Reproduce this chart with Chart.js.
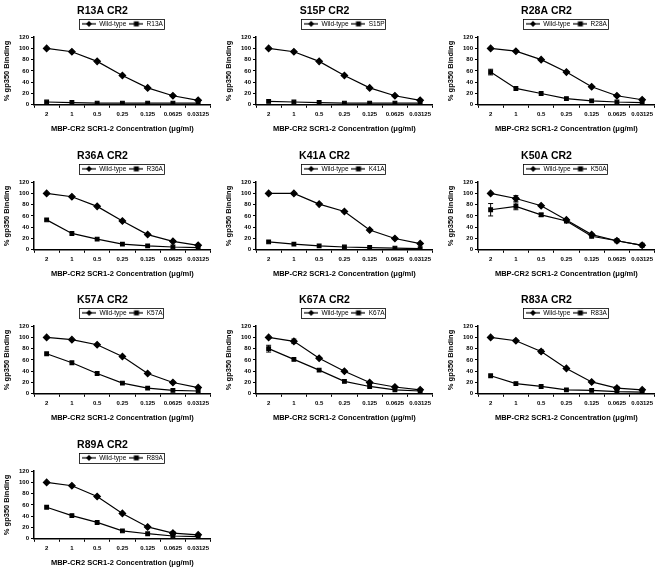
<!DOCTYPE html>
<html><head><meta charset="utf-8">
<script src="https://cdn.jsdelivr.net/npm/chart.js@4.4.1/dist/chart.umd.min.js"></script>
<style>
html,body{margin:0;padding:0;background:#fff;width:664px;height:567px;overflow:hidden;position:relative}
canvas{position:absolute}
</style></head><body>
<script>
// ---- data ----
const concentrations = ['2','1','0.5','0.25','0.125','0.0625','0.03125'];
const yTicks = [0,20,40,60,80,100,120];

const wt_R13A  = [100,94,77,52,30,16,8];
const mut_R13A = [5,4,3,3,3,3,3];
const wt_S15P  = [100,94,77,52,30,16,8];
const mut_S15P = [6,5,4,3,3,3,3];
const wt_R28A  = [100,95,80,58,32,16,9];
const mut_R28A = [58,29,20,11,7,5,4];
const errMut_R28A = [5,0,0,0,0,0,0];
const wt_R36A  = [100,94,77,51,27,15,8];
const mut_R36A = [53,29,19,10,7,5,4];
const wt_K41A  = [100,100,81,68,35,20,11];
const mut_K41A = [14,10,7,5,4,3,2];
const wt_K50A  = [100,91,78,53,27,16,8];
const mut_K50A = [71,77,62,51,24,16,8];
const errWt_K50A  = [0,5,0,0,0,0,0];
const errMut_K50A = [11,6,3,0,0,0,0];
const wt_K57A  = [100,96,87,66,36,20,11];
const mut_K57A = [71,55,36,19,10,6,5];
const wt_K67A  = [100,93,63,40,20,12,7];
const mut_K67A = [80,61,42,22,13,7,5];
const errWt_K67A  = [0,4,0,0,0,0,0];
const errMut_K67A = [6,0,0,0,0,0,0];
const wt_R83A  = [100,94,75,45,21,10,7];
const mut_R83A = [32,18,13,7,6,4,3];
const errWt_R83A = [0,0,3,0,0,3,0];
const wt_R89A  = [100,94,75,45,21,10,7];
const mut_R89A = [56,41,29,14,9,5,4];
const errWt_R89A = [0,0,0,0,0,3,0];

const panels = [
  ['R13A', wt_R13A, mut_R13A, null, null],
  ['S15P', wt_S15P, mut_S15P, null, null],
  ['R28A', wt_R28A, mut_R28A, null, errMut_R28A],
  ['R36A', wt_R36A, mut_R36A, null, null],
  ['K41A', wt_K41A, mut_K41A, null, null],
  ['K50A', wt_K50A, mut_K50A, errWt_K50A, errMut_K50A],
  ['K57A', wt_K57A, mut_K57A, null, null],
  ['K67A', wt_K67A, mut_K67A, errWt_K67A, errMut_K67A],
  ['R83A', wt_R83A, mut_R83A, errWt_R83A, null],
  ['R89A', wt_R89A, mut_R89A, errWt_R89A, null]
];

const FONT = "'Liberation Sans', Arial, sans-serif";

function legendIcon(style){
  const c = document.createElement('canvas');
  c.width = 14; c.height = 8;
  const g = c.getContext('2d');
  g.strokeStyle = '#000'; g.lineWidth = 1.2;
  g.beginPath(); g.moveTo(0,4); g.lineTo(14,4); g.stroke();
  g.fillStyle = '#000';
  if (style === 'rectRot') {
    g.beginPath(); g.moveTo(7,1); g.lineTo(10,4); g.lineTo(7,7); g.lineTo(4,4); g.closePath(); g.fill();
  } else {
    g.fillRect(4.5,1.5,5,5);
  }
  return c;
}
const iconWT = legendIcon('rectRot');
const iconMut = legendIcon('rect');

const errorBars = {
  id: 'errorBars',
  afterDatasetsDraw(chart){
    const ctx = chart.ctx, ys = chart.scales.y;
    chart.data.datasets.forEach((ds, i) => {
      if (!ds.errors) return;
      const meta = chart.getDatasetMeta(i);
      ds.errors.forEach((e, j) => {
        if (!e) return;
        const x = meta.data[j].x;
        const t = ys.getPixelForValue(ds.data[j] + e);
        const b = ys.getPixelForValue(ds.data[j] - e);
        ctx.save();
        ctx.strokeStyle = '#000'; ctx.lineWidth = 1;
        ctx.beginPath();
        ctx.moveTo(x, t); ctx.lineTo(x, b);
        ctx.moveTo(x-2.5, t); ctx.lineTo(x+2.5, t);
        ctx.moveTo(x-2.5, b); ctx.lineTo(x+2.5, b);
        ctx.stroke();
        ctx.restore();
      });
    });
  }
};

const legendFrame = {
  id: 'legendFrame',
  afterDraw(chart){
    const hb = chart.legend && chart.legend.legendHitBoxes;
    if (!hb || !hb.length) return;
    let l = Infinity, r = -Infinity, t = Infinity, b = -Infinity;
    hb.forEach(h => { l = Math.min(l, h.left); r = Math.max(r, h.left + h.width); t = Math.min(t, h.top); b = Math.max(b, h.top + h.height); });
    const ctx = chart.ctx;
    ctx.save();
    ctx.strokeStyle = '#000'; ctx.lineWidth = 0.8;
    ctx.strokeRect(Math.round(l - 3) + 0.5, Math.round(t - 2) + 0.5, Math.round(r - l + 4), Math.round(b - t + 3));
    ctx.restore();
  }
};

panels.forEach((p, idx) => {
  const [name, wt, mut, errWt, errMut] = p;
  const col = idx % 3, row = Math.floor(idx / 3);
  const cv = document.createElement('canvas');
  const W = 224, H = 133;
  cv.width = W; cv.height = H;
  cv.style.width = W + 'px'; cv.style.height = H + 'px';
  cv.style.left = (col * 222 - 8) + 'px';
  cv.style.top = Math.round(row * 144.6) + 'px';
  document.body.appendChild(cv);

  const axisCommon = {
    border: { color: '#000', width: 1.5 },
    grid: { drawOnChartArea: false, drawTicks: true, tickLength: 3, color: '#000', lineWidth: 1 }
  };

  new Chart(cv, {
    type: 'line',
    data: {
      labels: concentrations,
      datasets: [
        { label: 'Wild-type', data: wt, errors: errWt, borderColor: '#000', backgroundColor: '#000',
          borderWidth: 1.2, pointStyle: 'rectRot', pointRadius: 3.2, tension: 0 },
        { label: name, data: mut, errors: errMut, borderColor: '#000', backgroundColor: '#000',
          borderWidth: 1.2, pointStyle: 'rect', pointRadius: 2.6, tension: 0 }
      ]
    },
    options: {
      responsive: false, animation: false, devicePixelRatio: 1,
      layout: { padding: { top: 3, right: 3, left: 0, bottom: 0 } },
      plugins: {
        tooltip: { enabled: false },
        title: { display: true, text: name + ' CR2', color: '#000',
          font: { family: FONT, size: 10.5, weight: 'bold' }, padding: { top: 2, bottom: 0 } },
        legend: {
          display: true, fullSize: false,
          labels: {
            usePointStyle: true, pointStyleWidth: 14, boxHeight: 7, color: '#000', padding: 3,
            font: { family: FONT, size: 6.5 },
            generateLabels(chart){
              return chart.data.datasets.map((ds, i) => ({
                text: ds.label, pointStyle: i === 0 ? iconWT : iconMut,
                fillStyle: '#000', strokeStyle: '#000', lineWidth: 0, hidden: false, datasetIndex: i, fontColor: '#000'
              }));
            }
          }
        }
      },
      scales: {
        x: Object.assign({}, axisCommon, {
          type: 'category', offset: true,
          grid: Object.assign({}, axisCommon.grid, { offset: true }),
          ticks: { color: '#000', font: { family: FONT, size: 6, weight: 'bold' }, padding: 3, maxRotation: 0, autoSkip: false },
          title: { display: true, text: 'MBP-CR2 SCR1-2 Concentration (μg/ml)', color: '#000',
            font: { family: FONT, size: 7.5, weight: 'bold' }, padding: { top: 3, bottom: 0 } }
        }),
        y: Object.assign({}, axisCommon, {
          min: 0, max: 120,
          afterBuildTicks(scale){ scale.ticks = yTicks.map(v => ({ value: v })); },
          ticks: { color: '#000', font: { family: FONT, size: 6, weight: 'bold' }, padding: 2 },
          title: { display: true, text: '% gp350 Binding', color: '#000',
            font: { family: FONT, size: 7.5, weight: 'bold' }, padding: { top: 10, bottom: 6 } }
        })
      }
    },
    plugins: [errorBars, legendFrame]
  });
});
</script>
</body></html>
